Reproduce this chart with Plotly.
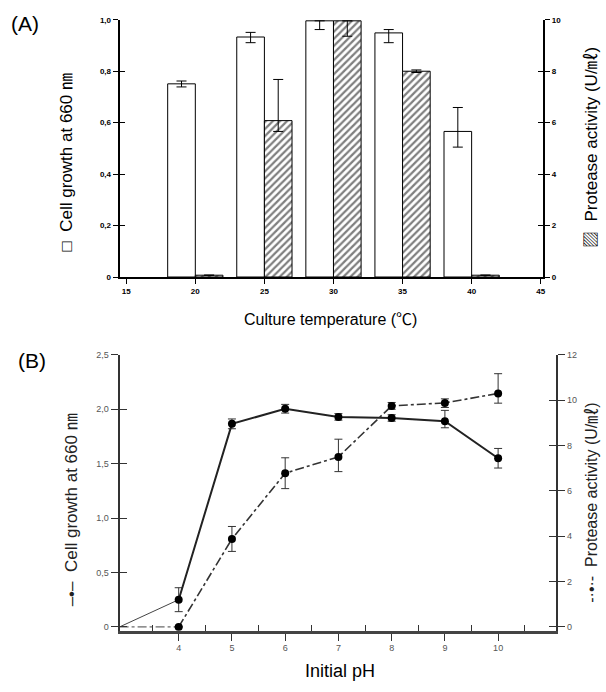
import plotly.graph_objects as go

# ---------------- Data ----------------
# Panel A: culture temperature
temps = [20, 25, 30, 35, 40]
growth_a = [0.751, 0.933, 0.996, 0.949, 0.566]
growth_a_plus = [0.011, 0.018, 0.0, 0.013, 0.093]
growth_a_minus = [0.012, 0.022, 0.034, 0.038, 0.061]
protease_a = [0.07, 6.08, 9.96, 8.0, 0.07]
protease_a_plus = [0.0, 1.6, 0.0, 0.05, 0.0]
protease_a_minus = [0.0, 0.42, 0.6, 0.05, 0.0]
temp_ticks = [15, 20, 25, 30, 35, 40, 45]
growth_a_ticks = [0, 0.2, 0.4, 0.6, 0.8, 1.0]
growth_a_ticktext = ["0", "0,2", "0,4", "0,6", "0,8", "1,0"]
protease_a_ticks = [0, 2, 4, 6, 8, 10]

# Panel B: initial pH
ph = [4, 5, 6, 7, 8, 9, 10]
ph_start = 2.89
growth_b = [0.25, 1.866, 2.005, 1.93, 1.92, 1.89, 1.55]
growth_b_err_plus = [0.11, 0.045, 0.04, 0.03, 0.03, 0.10, 0.09]
growth_b_err_minus = [0.11, 0.045, 0.04, 0.03, 0.03, 0.06, 0.09]
protease_b = [0.0, 3.88, 6.78, 7.5, 9.75, 9.88, 10.3]
protease_b_err_plus = [0.0, 0.55, 0.68, 0.78, 0.15, 0.18, 0.87]
protease_b_err_minus = [0.0, 0.55, 0.68, 0.65, 0.15, 0.2, 0.43]
ph_ticks = [4, 5, 6, 7, 8, 9, 10]
growth_b_ticks = [0, 0.5, 1.0, 1.5, 2.0, 2.5]
growth_b_ticktext = ["0", "0,5", "1,0", "1,5", "2,0", "2,5"]
protease_b_ticks = [0, 2, 4, 6, 8, 10, 12]

W, H = 606, 692
FONT = "Liberation Sans, Arial, Noto Sans CJK KR, sans-serif"


def px(x):
    return x / W


def py(y):
    return 1 - y / H


fig = go.Figure()

# ---------------- Panel A ----------------
fig.add_trace(go.Bar(
    x=temps, y=growth_a, offset=-2, width=2,
    marker=dict(color="white", line=dict(color="black", width=1)),
    error_y=dict(type="data", symmetric=False, array=growth_a_plus,
                 arrayminus=growth_a_minus, color="black", thickness=1, width=5),
    xaxis="x", yaxis="y", showlegend=False))
fig.add_trace(go.Bar(
    x=temps, y=protease_a, offset=0, width=2,
    marker=dict(color="white", line=dict(color="black", width=1),
                pattern=dict(shape="/", fgcolor="black", bgcolor="white",
                             size=5, solidity=0.45)),
    error_y=dict(type="data", symmetric=False, array=protease_a_plus,
                 arrayminus=protease_a_minus, color="black", thickness=1, width=5),
    xaxis="x", yaxis="y2", showlegend=False))
# dummy traces to realise the inner-tick overlay axes
for ya in ["y3", "y4"]:
    fig.add_trace(go.Scatter(x=[temps[0]], y=[None], xaxis="x", yaxis=ya,
                             showlegend=False, hoverinfo="skip"))

# ---------------- Panel B ----------------
fig.add_trace(go.Scatter(
    x=[ph_start, ph[0]], y=[0, growth_b[0]], mode="lines",
    line=dict(color="#444", width=1), xaxis="x2", yaxis="y5",
    showlegend=False, hoverinfo="skip"))
fig.add_trace(go.Scatter(
    x=[ph_start, ph[0]], y=[0, protease_b[0]], mode="lines",
    line=dict(color="#444", width=1, dash="dashdot"), xaxis="x2", yaxis="y6",
    showlegend=False, hoverinfo="skip"))
fig.add_trace(go.Scatter(
    x=ph, y=growth_b, mode="lines+markers",
    line=dict(color="#222", width=2),
    marker=dict(color="black", size=8),
    error_y=dict(type="data", symmetric=False, array=growth_b_err_plus,
                 arrayminus=growth_b_err_minus, color="#333", thickness=1, width=4),
    xaxis="x2", yaxis="y5", showlegend=False))
fig.add_trace(go.Scatter(
    x=ph, y=protease_b, mode="lines+markers",
    line=dict(color="#333", width=1.6, dash="dashdot"),
    marker=dict(color="black", size=8),
    error_y=dict(type="data", symmetric=False, array=protease_b_err_plus,
                 arrayminus=protease_b_err_minus, color="#333", thickness=1, width=4),
    xaxis="x2", yaxis="y6", showlegend=False))
for ya in ["y7", "y8"]:
    fig.add_trace(go.Scatter(x=[ph[0]], y=[None], xaxis="x2", yaxis=ya,
                             showlegend=False, hoverinfo="skip"))

# ---------------- Axes ----------------
domA_x = [px(120), px(545)]
domA_y = [py(276), py(15)]
domB_x = [px(120), px(558)]
domB_y = [py(635), py(355)]

tickA = dict(family=FONT, size=8, color="black", weight="bold")
tickB = dict(family=FONT, size=9, color="#555")

yA_range = [0, 1.0]
y2A_range = [0, 10]
yB_range = [-0.036, 2.5]
yB2_range = [yB_range[0] * 4.8, 12]

fig.update_layout(
    width=W, height=H,
    margin=dict(l=0, r=0, t=0, b=0),
    paper_bgcolor="white", plot_bgcolor="rgba(0,0,0,0)",
    barmode="overlay",
    xaxis=dict(domain=domA_x, anchor="y", range=[14.52, 45.18],
               tickvals=temp_ticks, ticks="outside", ticklen=5,
               tickwidth=1, tickcolor="black", tickfont=tickA,
               showline=True, linecolor="black", linewidth=2,
               showgrid=False, zeroline=False),
    yaxis=dict(domain=domA_y, anchor="x", range=yA_range,
               tickvals=growth_a_ticks, ticktext=growth_a_ticktext,
               ticks="outside", ticklen=5, tickwidth=1, tickcolor="black",
               tickfont=tickA, showline=True, linecolor="black", linewidth=2,
               showgrid=False, zeroline=False),
    yaxis2=dict(overlaying="y", side="right", anchor="x", range=y2A_range,
                tickvals=protease_a_ticks, ticks="outside", ticklen=5,
                tickwidth=1, tickcolor="black", tickfont=tickA,
                showline=True, linecolor="black", linewidth=2,
                showgrid=False, zeroline=False),
    yaxis3=dict(overlaying="y", side="left", anchor="x", range=yA_range,
                tickvals=growth_a_ticks, ticks="inside", ticklen=5,
                tickwidth=1, tickcolor="black", showticklabels=False,
                showline=False, showgrid=False, zeroline=False),
    yaxis4=dict(overlaying="y", side="right", anchor="x", range=y2A_range,
                tickvals=protease_a_ticks, ticks="inside", ticklen=5,
                tickwidth=1, tickcolor="black", showticklabels=False,
                showline=False, showgrid=False, zeroline=False),
    xaxis2=dict(domain=domB_x, anchor="y5", range=[ph_start, 11.09],
                tickvals=ph_ticks, ticks="outside", ticklen=7,
                tickwidth=1, tickcolor="#333", tickfont=tickB,
                minor=dict(tick0=3.5, dtick=1, ticks="inside", ticklen=6,
                           tickwidth=1, tickcolor="#333", showgrid=False),
                showline=True, linecolor="#444", linewidth=2.5,
                showgrid=False, zeroline=False),
    yaxis5=dict(domain=domB_y, anchor="x2", range=yB_range,
                tickvals=growth_b_ticks, ticktext=growth_b_ticktext,
                ticks="outside", ticklen=7, tickwidth=1, tickcolor="#333",
                tickfont=tickB, showline=True, linecolor="#333", linewidth=2,
                showgrid=False, zeroline=False),
    yaxis6=dict(overlaying="y5", side="right", anchor="x2", range=yB2_range,
                tickvals=protease_b_ticks, ticks="outside", ticklen=7,
                tickwidth=1, tickcolor="#333", tickfont=tickB,
                showline=True, linecolor="#333", linewidth=2,
                showgrid=False, zeroline=False),
    yaxis7=dict(overlaying="y5", side="left", anchor="x2", range=yB_range,
                tickvals=growth_b_ticks, ticks="inside", ticklen=7,
                tickwidth=1, tickcolor="#333", showticklabels=False,
                showline=False, showgrid=False, zeroline=False),
    yaxis8=dict(overlaying="y5", side="right", anchor="x2", range=yB2_range,
                tickvals=protease_b_ticks, ticks="inside", ticklen=7,
                tickwidth=1, tickcolor="#333", showticklabels=False,
                showline=False, showgrid=False, zeroline=False),
)

# ---------------- Text ----------------
def ann(text, x, y, size, angle=0, color="black", weight="normal"):
    fig.add_annotation(text=text, x=px(x), y=py(y), xref="paper", yref="paper",
                       showarrow=False, textangle=angle, xanchor="center",
                       yanchor="middle",
                       font=dict(family=FONT, size=size, color=color, weight=weight))

ann("(A)", 25, 19, 21)
ann("(B)", 32, 361, 21)
ann("Culture temperature (℃)", 332, 319, 16)
ann("Initial pH", 341, 676, 18)
ann("□  Cell growth at 660 ㎚", 67, 160, 17, angle=-90)
ann("▨  Protease activity (U/㎖)", 594, 145, 17, angle=-90)
ann("–•–  Cell growth at 660 ㎚", 72, 512, 17, angle=-90, color="#222")
ann("-·•·-  Protease activity (U/㎖)", 594, 505, 16, angle=-90, color="#222")

fig.write_html("out.html")
